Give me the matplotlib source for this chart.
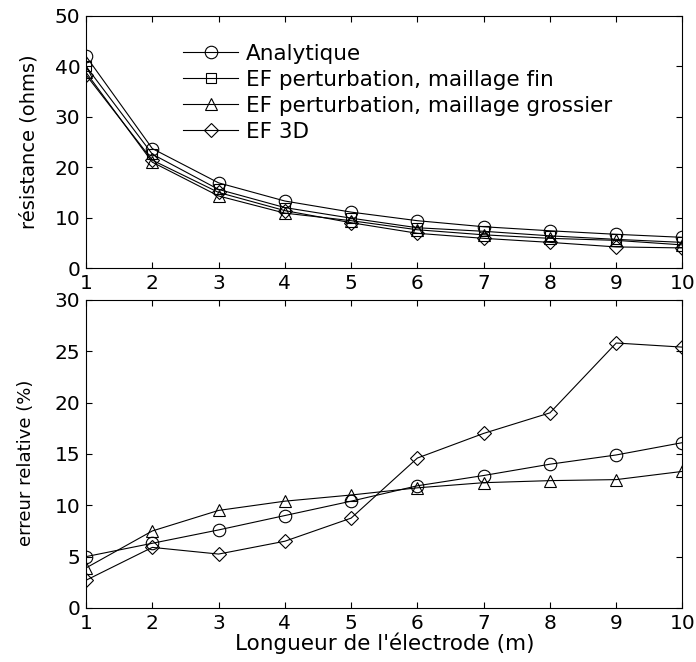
import matplotlib
matplotlib.use("Agg")
import matplotlib.pyplot as plt

plt.rcParams['font.family'] = ['DejaVu Sans']

x = [1, 2, 3, 4, 5, 6, 7, 8, 9, 10]

# Top: resistance (ohms)
r_analytique = [42.0, 23.7, 16.9, 13.3, 11.1, 9.4, 8.2, 7.4, 6.7, 6.1]
r_fin = [40.0, 22.6, 15.6, 12.0, 9.9, 8.0, 7.3, 6.4, 5.7, 5.1]
r_grossier = [38.8, 21.0, 14.3, 10.9, 9.4, 7.6, 6.6, 5.9, 5.5, 4.6]
r_3d = [38.3, 21.4, 15.0, 11.4, 9.0, 6.9, 5.9, 5.1, 4.2, 4.0]

# Bottom: relative error (%)
e_circle = [5.0, 6.3, 7.6, 9.0, 10.4, 11.9, 12.9, 14.0, 14.9, 16.1]
e_triangle = [3.9, 7.5, 9.5, 10.4, 11.0, 11.7, 12.2, 12.4, 12.5, 13.3]
e_diamond = [2.7, 5.9, 5.25, 6.5, 8.75, 14.6, 17.0, 19.0, 25.8, 25.4]

labels = ['Analytique', 'EF perturbation, maillage fin',
          'EF perturbation, maillage grossier', 'EF 3D']

fig = plt.figure(figsize=(6.96, 6.62), dpi=100)
ax1 = fig.add_axes([0.1236, 0.595, 0.857, 0.381])
ax2 = fig.add_axes([0.1236, 0.0816, 0.857, 0.4654])

kw = dict(color='black', linewidth=0.8, markerfacecolor='none',
          markeredgecolor='black', markeredgewidth=0.8)

ax1.plot(x, r_analytique, marker='o', markersize=9, label=labels[0], **kw)
ax1.plot(x, r_fin, marker='s', markersize=7, label=labels[1], **kw)
ax1.plot(x, r_grossier, marker='^', markersize=9, label=labels[2], **kw)
ax1.plot(x, r_3d, marker='D', markersize=7.5, label=labels[3], **kw)

ax2.plot(x, e_circle, marker='o', markersize=9, **kw)
ax2.plot(x, e_triangle, marker='^', markersize=9, **kw)
ax2.plot(x, e_diamond, marker='D', markersize=7.5, **kw)

for ax in (ax1, ax2):
    ax.set_xlim(1, 10)
    ax.set_xticks(x)
    ax.tick_params(direction='in', top=True, right=True, labelsize=14.5,
                   length=4, width=0.8, pad=4)
    for s in ax.spines.values():
        s.set_linewidth(0.8)

ax1.set_ylim(0, 50)
ax1.set_yticks([0, 10, 20, 30, 40, 50])
ax1.set_ylabel('résistance (ohms)', fontsize=14, labelpad=12)

ax2.set_ylim(0, 30)
ax2.set_yticks([0, 5, 10, 15, 20, 25, 30])
ax2.set_ylabel('erreur relative (%)', fontsize=13)
ax2.yaxis.set_label_coords(-0.085, 0.47)
ax2.set_xlabel("Longueur de l'électrode (m)", fontsize=15.5, labelpad=0)

ax1.legend(loc='upper left', bbox_to_anchor=(0.163, 0.889), frameon=False,
           fontsize=15.5, handlelength=2.55, handletextpad=0.37,
           labelspacing=0.28, borderpad=0, borderaxespad=0)

fig.savefig('out.png', dpi=100)
